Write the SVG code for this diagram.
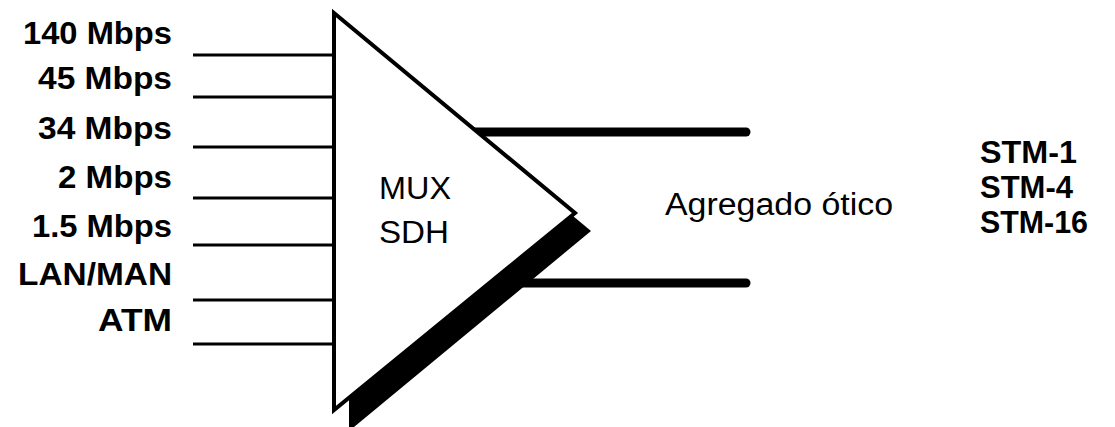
<svg xmlns="http://www.w3.org/2000/svg" width="1115" height="427" viewBox="0 0 1115 427">
  <style>
    .lbl { font-family: "Liberation Sans", Arial, sans-serif; font-size: 31px; font-weight: bold; fill: #000; }
    .reg { font-family: "Liberation Sans", Arial, sans-serif; font-size: 31px; fill: #000; }
    .in { stroke: #000; stroke-width: 3; fill: none; }
    .out { stroke: #000; stroke-width: 9; fill: none; stroke-linecap: round; }
  </style>
  <rect width="1115" height="427" fill="#fff"/>
  <g id="inputs-labels">
    <text class="lbl" x="172" y="44" text-anchor="end" textLength="149" lengthAdjust="spacingAndGlyphs">140 Mbps</text>
    <text class="lbl" x="172" y="89" text-anchor="end" textLength="134" lengthAdjust="spacingAndGlyphs">45 Mbps</text>
    <text class="lbl" x="172" y="139" text-anchor="end" textLength="134" lengthAdjust="spacingAndGlyphs">34 Mbps</text>
    <text class="lbl" x="172" y="188" text-anchor="end" textLength="114" lengthAdjust="spacingAndGlyphs">2 Mbps</text>
    <text class="lbl" x="172" y="237" text-anchor="end" textLength="140" lengthAdjust="spacingAndGlyphs">1.5 Mbps</text>
    <text class="lbl" x="172" y="285" text-anchor="end" textLength="154" lengthAdjust="spacingAndGlyphs">LAN/MAN</text>
    <text class="lbl" x="172" y="331" text-anchor="end" textLength="74" lengthAdjust="spacingAndGlyphs">ATM</text>
  </g>
  <g id="connectors">
    <line class="in" x1="193" y1="55" x2="334" y2="55"/>
    <line class="in" x1="193" y1="97" x2="334" y2="97"/>
    <line class="in" x1="193" y1="147" x2="334" y2="147"/>
    <line class="in" x1="193" y1="198" x2="334" y2="198"/>
    <line class="in" x1="193" y1="245" x2="334" y2="245"/>
    <line class="in" x1="193" y1="300" x2="334" y2="300"/>
    <line class="in" x1="193" y1="344" x2="334" y2="344"/>
    <line class="out" x1="470" y1="132" x2="746" y2="132"/>
    <line class="out" x1="500" y1="283" x2="746" y2="283"/>
  </g>
  <g id="mux">
    <polygon points="573,216 591,231 354,427 349,427 349,398" fill="#000"/>
    <polygon points="334,13 575,213 334,410" fill="#fff" stroke="#000" stroke-width="4" stroke-linejoin="miter"/>
    <text class="reg" x="415" y="199" text-anchor="middle" textLength="72" lengthAdjust="spacingAndGlyphs">MUX</text>
    <text class="reg" x="414" y="243" text-anchor="middle" textLength="70" lengthAdjust="spacingAndGlyphs">SDH</text>
  </g>
  <g id="aggregate">
    <text class="reg" x="665" y="215" textLength="228" lengthAdjust="spacingAndGlyphs">Agregado ótico</text>
  </g>
  <g id="stm">
    <text class="lbl" x="980" y="163" textLength="97" lengthAdjust="spacingAndGlyphs">STM-1</text>
    <text class="lbl" x="980" y="198" textLength="93" lengthAdjust="spacingAndGlyphs">STM-4</text>
    <text class="lbl" x="980" y="233" textLength="108" lengthAdjust="spacingAndGlyphs">STM-16</text>
  </g>
</svg>
